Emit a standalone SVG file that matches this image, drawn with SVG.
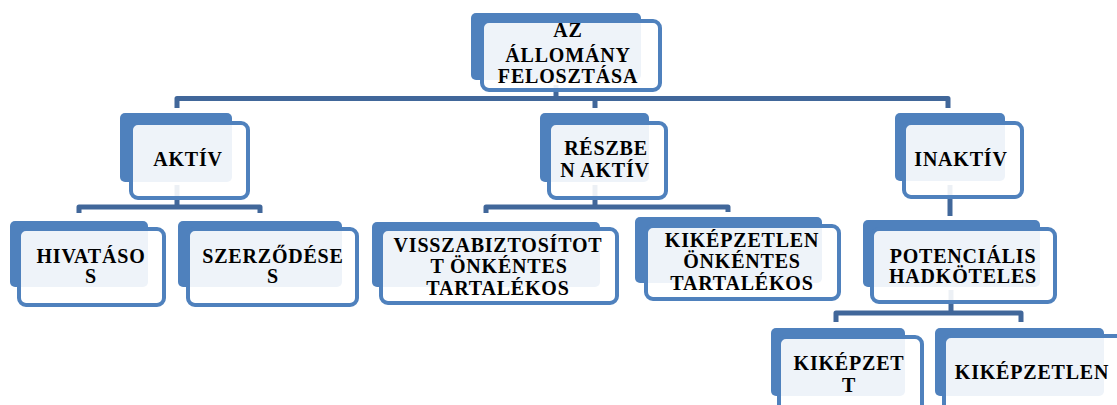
<svg xmlns="http://www.w3.org/2000/svg" width="1117" height="405" viewBox="0 0 1117 405">
<style>
.back{fill:#4F81BD}
.front{fill:#FFFFFF;fill-opacity:0.9;stroke:#4F81BD;stroke-width:4}
.lbl{font-family:"Liberation Serif","Times New Roman",serif;font-weight:bold;font-size:20px;letter-spacing:0.8px;fill:#000;text-anchor:middle}
.conn{fill:none;stroke:#41679A;stroke-width:5;stroke-linejoin:round}
</style>
<rect width="1117" height="405" fill="#FFFFFF"/>
<g id="connectors">
<path class="conn" d="M556,85 V98.5"/>
<path class="conn" d="M177,108 V98.5 H948 V108 M595,98.5 V108"/>
<path class="conn" d="M177,185 V207"/>
<path class="conn" d="M79,213 V207 H260 V213"/>
<path class="conn" d="M595,185 V207"/>
<path class="conn" d="M486,213 V207 H728 V212"/>
<path class="conn" d="M950,185 V216"/>
<path class="conn" d="M951,290 V313"/>
<path class="conn" d="M836,322 V313 H1021 V322"/>
</g>
<g id="node-root">
<rect class="back" x="471" y="13" width="170" height="67" rx="5"/>
<rect class="front" x="482" y="21" width="178" height="69" rx="7"/>
<text class="lbl" x="568" y="37">AZ</text>
<text class="lbl" x="568" y="62">ÁLLOMÁNY</text>
<text class="lbl" x="568" y="83">FELOSZTÁSA</text>
</g>
<g id="node-aktiv">
<rect class="back" x="120" y="113" width="112" height="69" rx="5"/>
<rect class="front" x="131" y="123" width="117" height="75" rx="7"/>
<text class="lbl" x="188" y="166">AKTÍV</text>
</g>
<g id="node-reszben">
<rect class="back" x="540" y="113" width="109" height="69" rx="5"/>
<rect class="front" x="549" y="123" width="117" height="75" rx="7"/>
<text class="lbl" x="606" y="155">RÉSZBE</text>
<text class="lbl" x="605" y="177">N AKTÍV</text>
</g>
<g id="node-inaktiv">
<rect class="back" x="895" y="113" width="110" height="68" rx="5"/>
<rect class="front" x="904" y="123" width="118" height="74" rx="7"/>
<text class="lbl" x="961" y="166">INAKTÍV</text>
</g>
<g id="node-hivatasos">
<rect class="back" x="10" y="221" width="138" height="66" rx="5"/>
<rect class="front" x="19" y="229" width="145" height="76" rx="7"/>
<text class="lbl" x="91" y="263">HIVATÁSO</text>
<text class="lbl" x="91" y="283">S</text>
</g>
<g id="node-szerzodeses">
<rect class="back" x="178" y="221" width="164" height="66" rx="5"/>
<rect class="front" x="188" y="229" width="169" height="76" rx="7"/>
<text class="lbl" x="273" y="263">SZERZŐDÉSE</text>
<text class="lbl" x="273" y="283">S</text>
</g>
<g id="node-visszabiztositott">
<rect class="back" x="372" y="222" width="228" height="65" rx="5"/>
<rect class="front" x="381" y="229" width="236" height="74" rx="7"/>
<text class="lbl" x="498" y="252">VISSZABIZTOSÍTOT</text>
<text class="lbl" x="499" y="273">T ÖNKÉNTES</text>
<text class="lbl" x="498" y="295">TARTALÉKOS</text>
</g>
<g id="node-kikepzetlen-onkentes">
<rect class="back" x="635" y="217" width="187" height="66" rx="5"/>
<rect class="front" x="646" y="226" width="193" height="73" rx="7"/>
<text class="lbl" x="742" y="247">KIKÉPZETLEN</text>
<text class="lbl" x="742" y="268">ÖNKÉNTES</text>
<text class="lbl" x="742" y="290">TARTALÉKOS</text>
</g>
<g id="node-potencialis">
<rect class="back" x="863" y="220" width="177" height="67" rx="5"/>
<rect class="front" x="872" y="229" width="183" height="73" rx="7"/>
<text class="lbl" x="963" y="263">POTENCIÁLIS</text>
<text class="lbl" x="963" y="283">HADKÖTELES</text>
</g>
<g id="node-kikepzett">
<rect class="back" x="771" y="328" width="134" height="68" rx="5"/>
<rect class="front" x="779" y="337" width="143" height="80" rx="7"/>
<text class="lbl" x="849" y="370">KIKÉPZET</text>
<text class="lbl" x="849" y="392">T</text>
</g>
<g id="node-kikepzetlen">
<rect class="back" x="935" y="328" width="169" height="68" rx="5"/>
<rect class="front" x="944" y="336" width="190" height="80" rx="7"/>
<text class="lbl" x="1032" y="379">KIKÉPZETLEN</text>
</g>
</svg>
